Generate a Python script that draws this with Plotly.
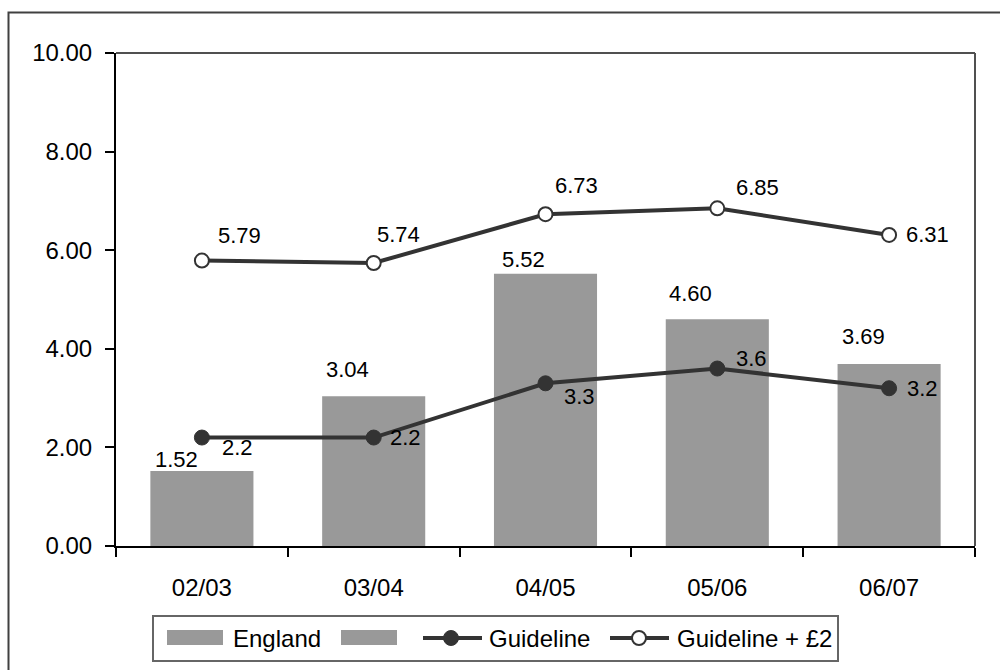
import plotly.graph_objects as go

# ---- data ----
seasons = ["02/03", "03/04", "04/05", "05/06", "06/07"]
england = [1.52, 3.04, 5.52, 4.60, 3.69]
guideline = [2.2, 2.2, 3.3, 3.6, 3.2]
guideline_plus2 = [5.79, 5.74, 6.73, 6.85, 6.31]
y_ticks = [0, 2, 4, 6, 8, 10]

# ---- label offsets (pixels: dx right, dy down) ----
bar_label_off = [(-25, -12), (-26, -27), (-22, -14), (-27, -26), (-26, -28)]
guide_label_off = [(36, 10), (32, 0), (34, 13), (34, -10), (33, 0)]
plus2_label_off = [(38, -25), (25, -29), (31, -29), (40, -21), (38, 0)]

W, H = 1000, 670
ML, MR, MT, MB = 116, 25, 53, 124
PW, PH = W - ML - MR, H - MT - MB

FONT = "Liberation Sans, Arial, sans-serif"
DARK = "#333333"
BAR = "#999999"


def xp(px):
    return (px - ML) / PW


def yp(py):
    return (H - MB - py) / PH


fig = go.Figure()

fig.add_trace(go.Bar(
    x=seasons, y=england, name="England", marker=dict(color=BAR, line=dict(width=0)),
    width=0.6, showlegend=False,
))
fig.add_trace(go.Scatter(
    x=seasons, y=guideline, name="Guideline", mode="lines+markers",
    line=dict(color=DARK, width=4),
    marker=dict(size=15, color=DARK, line=dict(color=DARK, width=1)),
    showlegend=False,
))
fig.add_trace(go.Scatter(
    x=seasons, y=guideline_plus2, name="Guideline + £2", mode="lines+markers",
    line=dict(color=DARK, width=4),
    marker=dict(size=14, color="white", line=dict(color=DARK, width=2)),
    showlegend=False,
))

LABEL_FONT = dict(family=FONT, size=22, color="black")
annotations = []
for s, v, (dx, dy) in zip(seasons, england, bar_label_off):
    annotations.append(dict(x=s, y=v, text=f"{v:.2f}", showarrow=False,
                            xanchor="center", yanchor="middle",
                            xshift=dx, yshift=-dy, font=LABEL_FONT))
for s, v, (dx, dy) in zip(seasons, guideline, guide_label_off):
    annotations.append(dict(x=s, y=v, text=f"{v:g}", showarrow=False,
                            xanchor="center", yanchor="middle",
                            xshift=dx, yshift=-dy, font=LABEL_FONT))
for s, v, (dx, dy) in zip(seasons, guideline_plus2, plus2_label_off):
    annotations.append(dict(x=s, y=v, text=f"{v:.2f}", showarrow=False,
                            xanchor="center", yanchor="middle",
                            xshift=dx, yshift=-dy, font=LABEL_FONT))

shapes = []
# outer chart frame
shapes.append(dict(type="rect", xref="paper", yref="paper",
                   x0=xp(8.5), x1=xp(1015), y0=yp(12.5), y1=yp(690),
                   line=dict(color="#404040", width=2), fillcolor="rgba(0,0,0,0)",
                   layer="below"))
# plot area top and right edges
shapes.append(dict(type="line", xref="paper", yref="paper", x0=0, x1=1, y0=1, y1=1,
                   line=dict(color="#505050", width=2)))
shapes.append(dict(type="line", xref="paper", yref="paper", x0=1, x1=1, y0=0, y1=1,
                   line=dict(color="#505050", width=2)))

# ---- legend ----
ly = 638
shapes.append(dict(type="rect", xref="paper", yref="paper",
                   x0=xp(153), x1=xp(838), y0=yp(616), y1=yp(661),
                   line=dict(color="#666666", width=2), fillcolor="white"))
for x0, x1 in [(167, 223), (341, 397)]:
    shapes.append(dict(type="rect", xref="paper", yref="paper",
                       x0=xp(x0), x1=xp(x1), y0=yp(630), y1=yp(645),
                       line=dict(width=0), fillcolor=BAR))
for (x0, x1, cx, filled) in [(423, 482, 451, True), (610, 669, 639, False)]:
    shapes.append(dict(type="line", xref="paper", yref="paper",
                       x0=xp(x0), x1=xp(x1), y0=yp(ly), y1=yp(ly),
                       line=dict(color=DARK, width=4)))
    r = 7.5 if filled else 7
    shapes.append(dict(type="circle", xref="paper", yref="paper",
                       x0=xp(cx - r), x1=xp(cx + r), y0=yp(ly - r), y1=yp(ly + r),
                       line=dict(color=DARK, width=1 if filled else 2),
                       fillcolor=DARK if filled else "white"))
for tx, label in [(231, "England"), (487, "Guideline"), (675, "Guideline + £2")]:
    annotations.append(dict(xref="paper", yref="paper", x=xp(tx), y=yp(ly),
                            text=label, showarrow=False, xanchor="left", yanchor="middle",
                            font=dict(family=FONT, size=24, color="black")))

fig.update_layout(
    width=W, height=H,
    margin=dict(l=ML, r=MR, t=MT, b=MB, pad=0),
    paper_bgcolor="white", plot_bgcolor="white",
    font=dict(family=FONT, size=24, color="black"),
    bargap=0.4,
    showlegend=False,
    shapes=shapes,
    annotations=annotations,
    xaxis=dict(
        type="category", tickson="boundaries", ticks="outside", ticklen=9,
        tickwidth=1.5, tickcolor="black", showline=True, linecolor="black",
        linewidth=2, showgrid=False, zeroline=False, ticklabelstandoff=19,
        tickfont=dict(family=FONT, size=24, color="black"),
    ),
    yaxis=dict(
        range=[0, 10], tickvals=y_ticks, tickformat=".2f", ticks="outside",
        ticklen=9, tickwidth=1.5, tickcolor="black", showline=True,
        linecolor="black", linewidth=2, showgrid=False, zeroline=False,
        ticklabelstandoff=8,
        tickfont=dict(family=FONT, size=24, color="black"),
    ),
)

fig.write_html("out.html")
